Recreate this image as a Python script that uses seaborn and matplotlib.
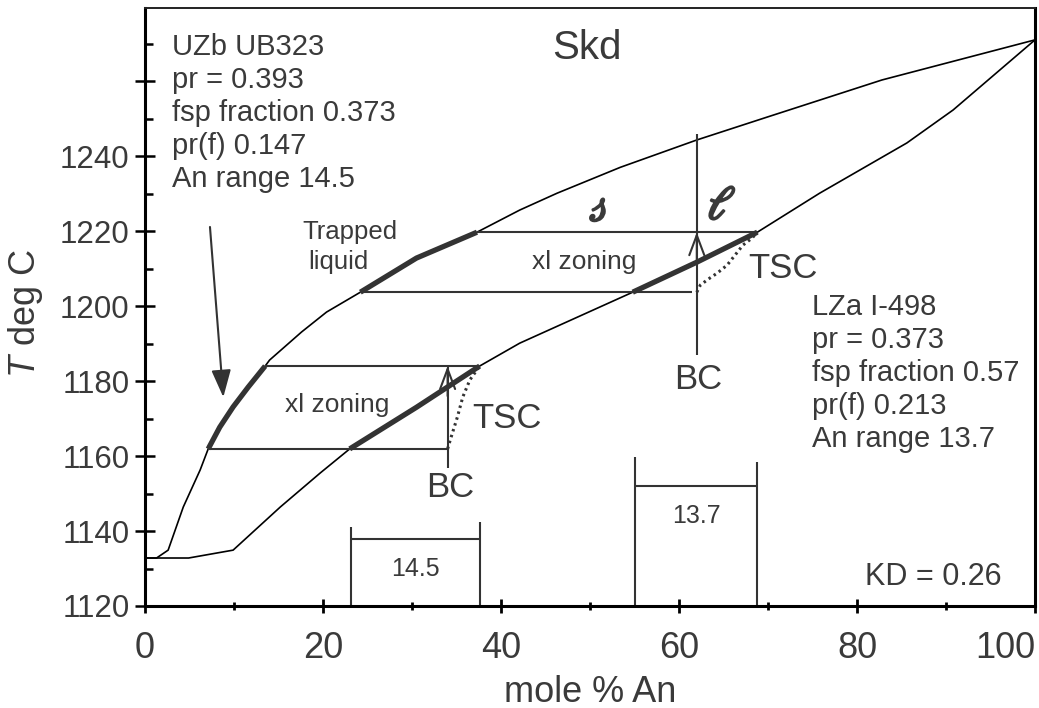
import numpy as np
import pandas as pd
import matplotlib
matplotlib.use("Agg")
import matplotlib.pyplot as plt
import matplotlib.patheffects as pe
from matplotlib.ticker import FixedLocator, FixedFormatter
import seaborn as sns

# Plagioclase binary loop: temperature vs mole % An
liquidus_an = [0, 1.3, 2.6, 4.3, 6.2, 7.1, 8.4, 9.9, 11.6, 13.5, 14.0, 17.6, 20.4,
               24.2, 30.5, 37.3, 42.1, 46.3, 53.4, 62.0, 69.9, 82.8, 100]
liquidus_t = [1132.8, 1132.8, 1134.9, 1146.4, 1156.3, 1161.9, 1167.7, 1173.1, 1178.4,
              1184.0, 1185.6, 1193.1, 1198.4, 1203.7, 1212.8, 1219.7, 1225.6, 1230.1,
              1237.0, 1244.3, 1250.4, 1260.3, 1271.0]
solidus_an = [0, 4.9, 9.9, 15.2, 19.7, 23.0, 30.5, 37.6, 42.1, 54.8, 62.0, 68.8,
              75.8, 85.6, 90.8, 100]
solidus_t = [1132.8, 1132.8, 1134.9, 1146.4, 1155.5, 1161.9, 1173.0, 1184.0, 1190.1,
             1203.7, 1211.7, 1219.7, 1230.1, 1243.5, 1252.3, 1271.0]

# crystallisation intervals (xl zoning), lower = UZb UB323, upper = LZa I-498
zone_t_low = [1161.9, 1203.7]
zone_t_high = [1184.0, 1219.7]

# tie lines: temperature, left end, right end (mole % An)
tie_t = [1161.9, 1184.0, 1203.7, 1219.7]
tie_an_left = [7.1, 13.5, 24.2, 37.3]
tie_an_right = [34.0, 37.6, 61.5, 68.8]

# bulk composition lines
bc_an = [34.0, 62.0]
bc_t_bottom = [1156.8, 1187.0]
bc_t_top = [1184.0, 1246.0]
bc_arrow_t = [1184.0, 1219.7]

# trapped-solid-composition paths
tsc_low_an = [34.0, 34.3, 35.1, 35.7, 36.5, 37.6]
tsc_low_t = [1161.9, 1164.3, 1170.4, 1175.7, 1180.3, 1184.0]
tsc_high_an = [62.0, 62.4, 63.3, 64.3, 65.4, 66.3, 67.2, 68.2, 68.8]
tsc_high_t = [1203.7, 1205.6, 1207.2, 1208.8, 1210.9, 1213.6, 1216.3, 1218.1, 1219.7]

# observed An ranges
an_range_start = [23.1, 55.1]
an_range_width = [14.5, 13.7]
an_range_bar_t = [1137.9, 1152.0]
an_range_top_left = [1141.0, 1159.7]
an_range_top_right = [1142.4, 1158.4]

x_ticks_major = [0, 20, 40, 60, 80, 100]
x_ticks_minor = [10, 30, 50, 70, 90]
y_ticks_major = [1120, 1140, 1160, 1180, 1200, 1220, 1240, 1260]
y_tick_labels = ["1120", "1140", "1160", "1180", "1200", "1220", "1240", ""]
y_ticks_minor = [1130, 1150, 1170, 1190, 1210, 1230, 1250, 1270]

uzb_lines = ["UZb UB323", "pr = 0.393", "fsp fraction 0.373", "pr(f) 0.147", "An range 14.5"]
lza_lines = ["LZa I-498", "pr = 0.373", "fsp fraction 0.57", "pr(f) 0.213", "An range 13.7"]

sns.set_theme(style="ticks")
plt.rcParams["font.family"] = ["Liberation Sans", "DejaVu Sans"]
plt.rcParams["mathtext.fontset"] = "custom"
plt.rcParams["mathtext.rm"] = "Liberation Sans"
plt.rcParams["mathtext.it"] = "Liberation Sans:italic"

INK = "#3a3a3a"
LINE = "#333333"

fig = plt.figure(figsize=(10.39, 7.08), dpi=100)
ax = fig.add_axes([145 / 1039, 1 - 606 / 708, 890 / 1039, 598 / 708])

curves = pd.DataFrame({"An": liquidus_an + solidus_an,
                       "T": liquidus_t + solidus_t,
                       "curve": ["liquidus"] * len(liquidus_an) + ["solidus"] * len(solidus_an)})
for name, grp in curves.groupby("curve"):
    sns.lineplot(data=grp, x="An", y="T", sort=False, estimator=None,
                 color="black", lw=1.2, ax=ax, legend=False)
    # heavy segments along the curve within each zoning interval
    for lo, hi in zip(zone_t_low, zone_t_high):
        seg = grp[(grp["T"] >= lo) & (grp["T"] <= hi)]
        sns.lineplot(data=seg, x="An", y="T", sort=False, estimator=None,
                     color=LINE, lw=3.8, ax=ax, legend=False,
                     solid_capstyle="butt")

ax.hlines(tie_t, tie_an_left, tie_an_right, color=LINE, lw=1.5)

for a, b0, b1, ta in zip(bc_an, bc_t_bottom, bc_t_top, bc_arrow_t):
    ax.vlines(a, b0, b1, color=LINE, lw=1.5)
    ax.annotate("", xy=(a, ta), xytext=(a, ta - 8),
                arrowprops=dict(arrowstyle="->,head_length=1.2,head_width=0.45",
                                color=LINE, lw=1.5, shrinkA=0, shrinkB=0))

for xs, ys in [(tsc_low_an, tsc_low_t), (tsc_high_an, tsc_high_t)]:
    ax.plot(xs, ys, color=LINE, lw=2.2, linestyle=(0, (0.8, 1.2)))

for s, w, bt, tl, tr in zip(an_range_start, an_range_width, an_range_bar_t,
                            an_range_top_left, an_range_top_right):
    ax.vlines(s, 1120, tl, color=LINE, lw=1.5)
    ax.vlines(s + w, 1120, tr, color=LINE, lw=1.5)
    ax.hlines(bt, s, s + w, color=LINE, lw=1.5)
    ax.text(s + w / 2, bt - 8, f"{w:.1f}", ha="center", va="center",
            fontsize=18, color=INK)

# arrow pointing to the UZb zoning interval on the liquidus
ax.annotate("", xy=(8.8, 1175.7), xytext=(7.3, 1221.1),
            arrowprops=dict(arrowstyle="-|>,head_length=1.4,head_width=0.5",
                            color=LINE, lw=1.5, shrinkA=0, shrinkB=0))

# annotations
ax.text(49.7, 1268.8, "Skd", fontsize=29, color=INK, ha="center", va="center")
ax.text(21.6, 1173.6, "xl zoning", fontsize=19, color=INK, ha="center", va="center")
ax.text(49.4, 1211.7, "xl zoning", fontsize=19, color=INK, ha="center", va="center")
ax.text(40.7, 1170.0, "TSC", fontsize=25, color=INK, ha="center", va="center")
ax.text(71.7, 1210.1, "TSC", fontsize=25, color=INK, ha="center", va="center")
ax.text(34.3, 1151.5, "BC", fontsize=25, color=INK, ha="center", va="center")
ax.text(62.1, 1180.3, "BC", fontsize=25, color=INK, ha="center", va="center")
ax.text(23.0, 1219.7, "Trapped", fontsize=18.5, color=INK, ha="center", va="center")
ax.text(21.7, 1211.7, "liquid", fontsize=18.5, color=INK, ha="center", va="center")
bold = [pe.withStroke(linewidth=1.6, foreground=INK)]
ax.text(50.8, 1225.6, r"$\mathscr{s}$", fontsize=30, color=INK, ha="center",
        va="center", math_fontfamily="stix", path_effects=bold)
ax.text(64.8, 1226.4, r"$\mathscr{l}$", fontsize=34, color=INK, ha="center",
        va="center", math_fontfamily="stix", path_effects=bold)
ax.text(96.3, 1127.7, "KD = 0.26", fontsize=22, color=INK, ha="right", va="center")

for i, line in enumerate(uzb_lines):
    ax.text(3.0, 1267.0 - i * 8.8, line, fontsize=21, color=INK, ha="left", va="baseline")
for i, line in enumerate(lza_lines):
    ax.text(75.0, 1197.6 - i * 8.8, line, fontsize=21, color=INK, ha="left", va="baseline")

ax.set_xlim(0, 100)
ax.set_ylim(1120, 1279.5)

ax.xaxis.set_major_locator(FixedLocator(x_ticks_major))
ax.xaxis.set_minor_locator(FixedLocator(x_ticks_minor))
ax.yaxis.set_major_locator(FixedLocator(y_ticks_major))
ax.yaxis.set_major_formatter(FixedFormatter(y_tick_labels))
ax.yaxis.set_minor_locator(FixedLocator(y_ticks_minor))

ax.tick_params(axis="x", which="major", direction="inout", length=10, width=2,
               labelsize=26, labelcolor=INK, pad=13, color="black")
ax.tick_params(axis="x", which="minor", direction="inout", length=6, width=2,
               color="black")
ax.tick_params(axis="y", which="major", direction="inout", length=14, width=1.8,
               labelsize=22.5, labelcolor=INK, pad=4, color="black")
ax.tick_params(axis="y", which="minor", direction="in", length=6, width=1.8,
               color="black")
for lbl in ax.get_xticklabels():
    if lbl.get_text() == "100":
        lbl.set_horizontalalignment("right")

ax.set_xlabel("mole % An", fontsize=26, color=INK)
ax.set_ylabel(r"$T$ deg C", fontsize=26, color=INK)
ax.xaxis.set_label_coords(0.5, -0.115)
ax.yaxis.set_label_coords(-0.112, 0.49)

for side in ["left", "bottom", "right"]:
    ax.spines[side].set_linewidth(2.2)
    ax.spines[side].set_color("black")
ax.spines["top"].set_linewidth(1.4)
ax.spines["top"].set_color("#222222")
ax.grid(False)

fig.savefig("out.png", dpi=100)
